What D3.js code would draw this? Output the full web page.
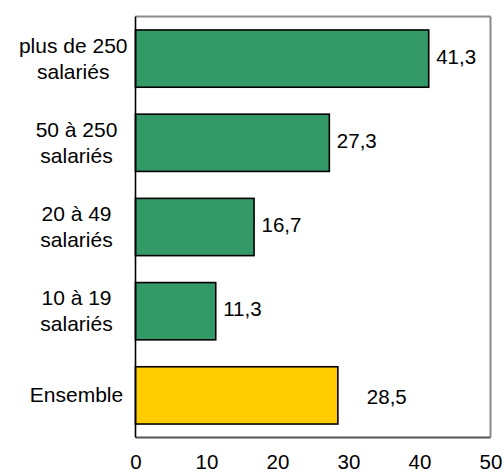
<!DOCTYPE html>
<html>
<head>
<meta charset="utf-8">
<script src="https://cdn.jsdelivr.net/npm/d3@7"></script>
<style>
  html, body { margin: 0; padding: 0; background: #fff; }
  svg { display: block; }
  text { font-family: "Liberation Sans", Arial, sans-serif; fill: #000; }
</style>
</head>
<body>
<svg id="chart" width="504" height="473"></svg>
<script>
// Category labels (each line of a wrapped label is a separate entry)
const categories = [
  ["plus de 250", "salariés"],
  ["50 à 250", "salariés"],
  ["20 à 49", "salariés"],
  ["10 à 19", "salariés"],
  ["Ensemble"]
];
const values = [41.3, 27.3, 16.7, 11.3, 28.5];
const highlighted = [false, false, false, false, true];
const xTicks = [0, 10, 20, 30, 40, 50];

const W = 504, H = 473;
const margin = { top: 16.5, right: 13.5, bottom: 35.5, left: 135.5 };
const innerW = W - margin.left - margin.right;
const innerH = H - margin.top - margin.bottom;

const svg = d3.select("#chart");
const g = svg.append("g").attr("transform", `translate(${margin.left},${margin.top})`);

const keys = categories.map((c, i) => i);
const x = d3.scaleLinear().domain([0, 50]).range([0, innerW]);
const y = d3.scaleBand().domain(keys).range([0, innerH]).paddingInner(0.32).paddingOuter(0.16);

// Plot frame: grey top and right edges, darker bottom edge
g.append("line")
  .attr("x1", 0).attr("x2", innerW).attr("y1", 0).attr("y2", 0)
  .attr("stroke", "#8a8a8a").attr("stroke-width", 2);
g.append("line")
  .attr("x1", innerW).attr("x2", innerW).attr("y1", 0).attr("y2", innerH)
  .attr("stroke", "#8a8a8a").attr("stroke-width", 2);
g.append("line")
  .attr("x1", 0).attr("x2", innerW).attr("y1", innerH).attr("y2", innerH)
  .attr("stroke", "#555555").attr("stroke-width", 1.8);

// Bars
g.selectAll("rect.bar")
  .data(keys)
  .join("rect")
  .attr("class", "bar")
  .attr("x", x(0))
  .attr("y", i => y(i))
  .attr("width", i => x(values[i]) - x(0))
  .attr("height", y.bandwidth())
  .attr("fill", i => highlighted[i] ? "#ffcc00" : "#339966")
  .attr("stroke", "#000")
  .attr("stroke-width", 1.6);

// Vertical category axis line
g.append("line")
  .attr("x1", 0).attr("x2", 0).attr("y1", 0).attr("y2", innerH)
  .attr("stroke", "#000").attr("stroke-width", 1.6);

// Value labels
const fmt = v => d3.format(".1f")(v).replace(".", ",");
g.selectAll("text.value")
  .data(keys)
  .join("text")
  .attr("class", "value")
  .attr("x", i => x(values[i]) + (highlighted[i] ? 29 : 7.5))
  .attr("y", i => y(i) + y.bandwidth() / 2 + (highlighted[i] ? 9 : 5))
  .attr("font-size", 20.5)
  .text(i => fmt(values[i]));

// Category labels: lines centred on each other, block kept clear of the axis
const lineH = 26;
g.selectAll("text.cat")
  .data(keys)
  .join("text")
  .attr("class", "cat")
  .attr("font-size", 21)
  .attr("text-anchor", "middle")
  .each(function (i) {
    const lines = categories[i];
    const cy = y(i) + y.bandwidth() / 2;
    const spans = d3.select(this).selectAll("tspan")
      .data(lines)
      .join("tspan")
      .attr("x", 0)
      .attr("y", (d, k) => cy + (k - (lines.length - 1) / 2) * lineH + 7)
      .text(d => d);
    const w = d3.max(spans.nodes(), n => n.getComputedTextLength());
    spans.attr("x", Math.min(-59, -8 - w / 2));
  });

// Horizontal value axis (labels only)
const xAxis = d3.axisBottom(x).tickValues(xTicks).tickSize(0).tickPadding(0);
const ax = g.append("g")
  .attr("transform", `translate(0,${innerH})`)
  .call(xAxis);
ax.select(".domain").remove();
ax.selectAll("text")
  .attr("font-size", 20.5)
  .attr("font-family", "'Liberation Sans', Arial, sans-serif")
  .attr("fill", "#000")
  .attr("dy", null)
  .attr("y", 31.5);
</script>
</body>
</html>
